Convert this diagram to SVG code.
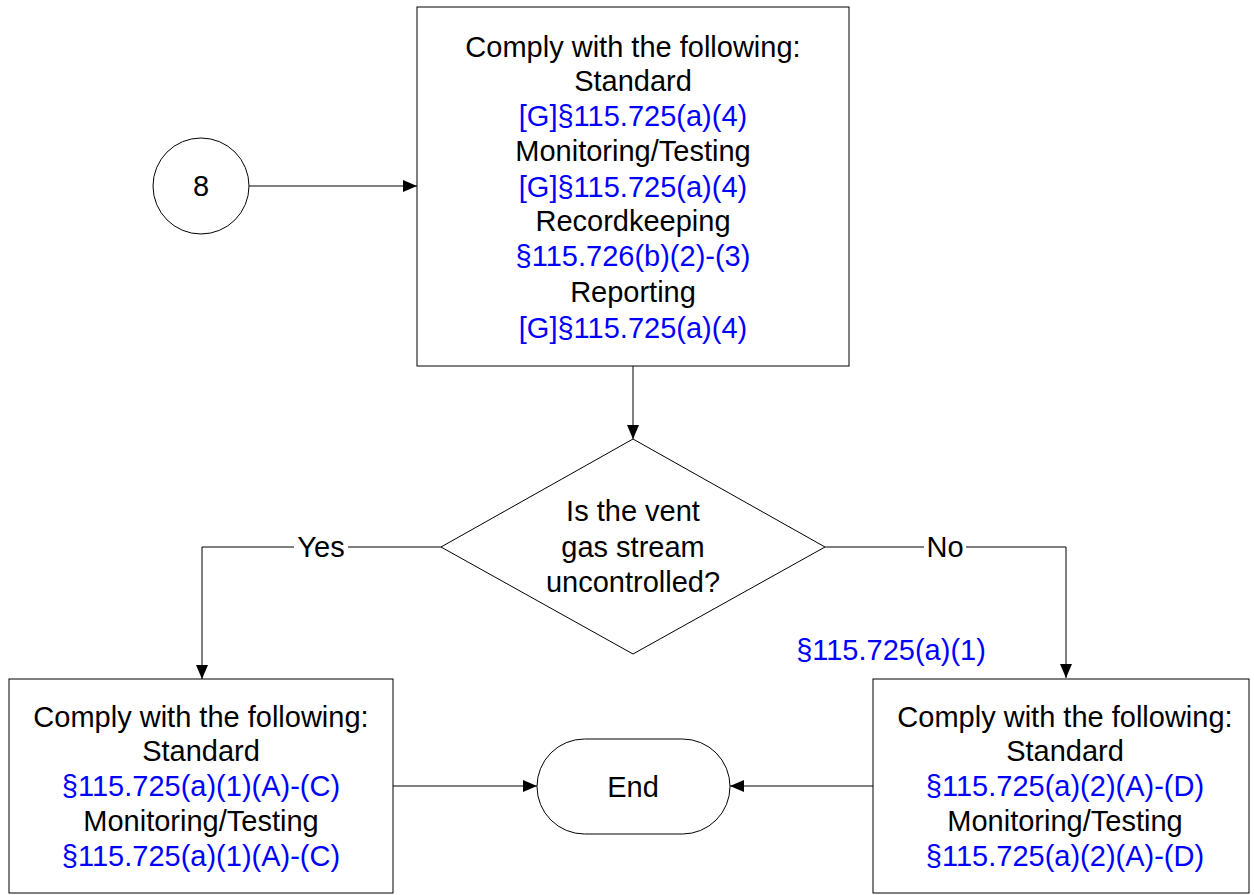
<svg xmlns="http://www.w3.org/2000/svg" width="1254" height="895" viewBox="0 0 1254 895">
<style>
.s{fill:#fff;stroke:#000;stroke-width:1}
.t{font-family:"Liberation Sans",Arial,sans-serif;font-size:29px;text-anchor:middle;fill:#000}
.b{fill:#0000ff}
.c{fill:none;stroke:#000;stroke-width:1}
</style>
<defs>
<marker id="a" markerWidth="14" markerHeight="12" refX="14" refY="6" orient="auto" markerUnits="userSpaceOnUse">
<path d="M0,0 L14,6 L0,12 Z" fill="#000"/>
</marker>
</defs>
<rect width="1254" height="895" fill="#fff"/>
<g id="connectors">
<path class="c" d="M249,186 H417" marker-end="url(#a)"/>
<path class="c" d="M633,366 V439" marker-end="url(#a)"/>
<path class="c" d="M441,547 H202 V679" marker-end="url(#a)"/>
<path class="c" d="M825,547 H1066 V678" marker-end="url(#a)"/>
<path class="c" d="M393,786 H537" marker-end="url(#a)"/>
<path class="c" d="M873,786 H730" marker-end="url(#a)"/>
<rect x="294" y="531" width="54" height="32" fill="#fff"/>
<text class="t" x="321" y="557">Yes</text>
<rect x="924" y="531" width="42" height="32" fill="#fff"/>
<text class="t" x="945" y="557">No</text>
<text class="t b" x="891" y="660">§115.725(a)(1)</text>
</g>
<g id="n8">
<circle class="s" cx="201" cy="186" r="48"/>
<text class="t" x="201" y="196">8</text>
</g>
<g id="top">
<rect class="s" x="417" y="7" width="432" height="359"/>
<text class="t" x="633" y="57">Comply with the following:</text>
<text class="t" x="633" y="91">Standard</text>
<text class="t b" x="633" y="126">[G]§115.725(a)(4)</text>
<text class="t" x="633" y="161">Monitoring/Testing</text>
<text class="t b" x="633" y="197">[G]§115.725(a)(4)</text>
<text class="t" x="633" y="231">Recordkeeping</text>
<text class="t b" x="633" y="266">§115.726(b)(2)-(3)</text>
<text class="t" x="633" y="302">Reporting</text>
<text class="t b" x="633" y="338">[G]§115.725(a)(4)</text>
</g>
<g id="decision">
<polygon class="s" points="633,439 825,547 633,654 441,547"/>
<text class="t" x="633" y="521">Is the vent</text>
<text class="t" x="633" y="557">gas stream</text>
<text class="t" x="633" y="592">uncontrolled?</text>
</g>
<g id="left">
<rect class="s" x="9" y="679" width="384" height="214"/>
<text class="t" x="201" y="727">Comply with the following:</text>
<text class="t" x="201" y="761">Standard</text>
<text class="t b" x="201" y="796">§115.725(a)(1)(A)-(C)</text>
<text class="t" x="201" y="831">Monitoring/Testing</text>
<text class="t b" x="201" y="866">§115.725(a)(1)(A)-(C)</text>
</g>
<g id="right">
<rect class="s" x="873" y="679" width="376" height="214"/>
<text class="t" x="1065" y="727">Comply with the following:</text>
<text class="t" x="1065" y="761">Standard</text>
<text class="t b" x="1065" y="796">§115.725(a)(2)(A)-(D)</text>
<text class="t" x="1065" y="831">Monitoring/Testing</text>
<text class="t b" x="1065" y="866">§115.725(a)(2)(A)-(D)</text>
</g>
<g id="end">
<rect class="s" x="537" y="739" width="193" height="95" rx="47.5" ry="47.5"/>
<text class="t" x="633" y="797">End</text>
</g>
</svg>
